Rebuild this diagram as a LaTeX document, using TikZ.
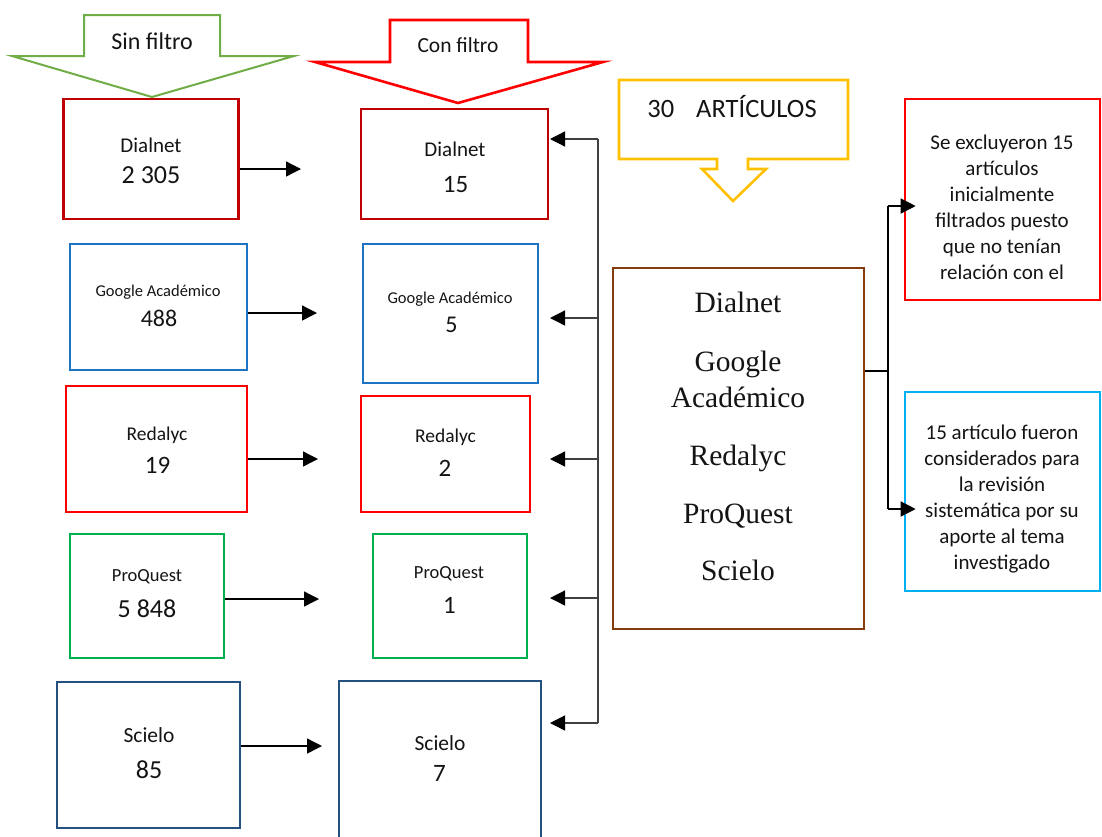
\documentclass[tikz,border=0pt]{standalone}
\usepackage{fontspec}
\setmainfont{Carlito}
\newfontfamily\tmsfont{Liberation Serif}
\usetikzlibrary{arrows.meta}
\definecolor{cGrn}{HTML}{70AD47}
\definecolor{cRed}{HTML}{FF0000}
\definecolor{cDial}{HTML}{C00000}
\definecolor{cGoog}{HTML}{1F74C2}
\definecolor{cPro}{HTML}{00B050}
\definecolor{cSci}{HTML}{24517F}
\definecolor{cYel}{HTML}{FFC000}
\definecolor{cBro}{HTML}{843C0C}
\definecolor{cSky}{HTML}{00B0F0}
\definecolor{cBus}{HTML}{404040}
\definecolor{cTxt}{HTML}{141414}
\newcommand{\fs}[1]{\fontsize{#1}{#1}\selectfont}
\begin{document}
\begin{tikzpicture}[x=1pt,y=-1pt,
  box/.style={draw, line width=2.6pt, inner sep=0pt},
  txt/.style={anchor=base, text=cTxt, inner sep=0pt},
  para/.style={text=cTxt, inner sep=0pt, align=center, font=\fontsize{21}{26}\selectfont},
  arr/.style={-{Triangle[length=15pt,width=15pt]}, line width=1.3pt, black},
  barr/.style={-{Triangle[length=15pt,width=15pt,black]}, line width=1.3pt, cBus},
  bus/.style={line width=1.8pt, cBus}]
\useasboundingbox (0,0) rectangle (1102,836);

% top arrows
\draw[cGrn, line width=2pt] (84,15) -- (220,15) -- (220,56) -- (294,56) -- (152,97) -- (12,56) -- (84,56) -- cycle;
\node[txt, font=\fs{24}] (sinF) at (152,49) {Sin filtro};
\draw[cRed, line width=2.6pt] (390,20) -- (528,20) -- (528,62) -- (603,62) -- (458,103) -- (315,62) -- (390,62) -- cycle;
\node[txt, font=\fs{21.5}] (conF) at (458,52) {Con filtro};

% left column
\node[box, draw=cDial, minimum width=175pt, minimum height=120pt] (dL) at (151,159) {};
\node[txt, font=\fs{21}] (dLa) at (151,152) {Dialnet};
\node[txt, font=\fs{26}] (dLn) at (151,183) {2 305};

\node[box, draw=cGoog, minimum width=177pt, minimum height=126pt] (gL) at (158.5,307) {};
\node[txt, font=\fs{16.5}] (gLa) at (158,296) {Google Académico};
\node[txt, font=\fs{24}] (gLn) at (159,326) {488};

\node[box, draw=cRed, minimum width=181pt, minimum height=126pt] (rL) at (156.5,449) {};
\node[txt, font=\fs{19.5}] (rLa) at (157,440) {Redalyc};
\node[txt, font=\fs{25}] (rLn) at (157.5,473) {19};

\node[box, draw=cPro, minimum width=154pt, minimum height=124pt] (pL) at (147,596) {};
\node[txt, font=\fs{18.5}] (pLa) at (147,581) {ProQuest};
\node[txt, font=\fs{26}] (pLn) at (147,617) {5 848};

\node[box, draw=cSci, minimum width=183pt, minimum height=146pt] (sL) at (148.5,755) {};
\node[txt, font=\fs{21.5}] (sLa) at (149,742) {Scielo};
\node[txt, font=\fs{26}] (sLn) at (149,778) {85};

% right column
\node[box, draw=cDial, minimum width=187pt, minimum height=110pt] (dR) at (454.5,164) {};
\node[txt, font=\fs{21}] (dRa) at (455,156) {Dialnet};
\node[txt, font=\fs{25}] (dRn) at (455.5,192) {15};

\node[box, draw=cGoog, minimum width=175pt, minimum height=139pt] (gR) at (450.5,313.5) {};
\node[txt, font=\fs{16.5}] (gRa) at (450,303) {Google Académico};
\node[txt, font=\fs{24}] (gRn) at (451.5,332) {5};

\node[box, draw=cRed, minimum width=169pt, minimum height=116pt] (rR) at (445.5,454) {};
\node[txt, font=\fs{19.5}] (rRa) at (445.5,442) {Redalyc};
\node[txt, font=\fs{25}] (rRn) at (445,476) {2};

\node[box, draw=cPro, minimum width=154pt, minimum height=124pt] (pR) at (450,596) {};
\node[txt, font=\fs{18.5}] (pRa) at (449,578) {ProQuest};
\node[txt, font=\fs{25}] (pRn) at (449.5,613) {1};

\node[box, draw=cSci, minimum width=202pt, minimum height=160pt] (sR) at (440,761) {};
\node[txt, font=\fs{21.5}] (sRa) at (440,750) {Scielo};
\node[txt, font=\fs{25}] (sRn) at (439.5,781) {7};

% left -> right arrows
\coordinate (tD) at (301,169);
\coordinate (tG) at (317,313);
\coordinate (tR) at (318,459);
\coordinate (tP) at (319,599);
\coordinate (tS) at (322,746);
\draw[arr] (dL.east |- tD) -- (tD);
\draw[arr] (gL.east |- tG) -- (tG);
\draw[arr] (rL.east |- tR) -- (tR);
\draw[arr] (pL.east |- tP) -- (tP);
\draw[arr] (sL.east |- tS) -- (tS);

% bus
\coordinate (bT) at (598,139);
\coordinate (bG) at (598,318);
\coordinate (bR) at (598,459);
\coordinate (bP) at (598,598);
\coordinate (bB) at (598,723);
\coordinate (tipx) at (550,0);
\draw[bus] (bT) -- (bB);
\draw[barr] (bT) -- (bT -| tipx);
\draw[barr] (bG) -- (bG -| tipx);
\draw[barr] (bR) -- (bR -| tipx);
\draw[barr] (bP) -- (bP -| tipx);
\draw[barr] (bB) -- (bB -| tipx);

% yellow callout
\draw[cYel, line width=2.6pt] (619,80) -- (848,80) -- (848,159) -- (748,159) -- (748,169) -- (766,169) -- (733,201) -- (702,169) -- (717,169) -- (717,159) -- (619,159) -- cycle;
\node[txt, font=\fs{26.5}] (art) at (732,117) {30\hspace{22pt}ARTÍCULOS};

% brown box
\node[box, draw=cBro, minimum width=251pt, minimum height=361pt] (bro) at (738.5,448.5) {};
\node[txt, font=\tmsfont\fs{29.5}] (b1) at (738,312) {Dialnet};
\node[txt, font=\tmsfont\fs{29.5}] (b2) at (738,371) {Google};
\node[txt, font=\tmsfont\fs{29.5}] (b3) at (738,407) {Académico};
\node[txt, font=\tmsfont\fs{29.5}] (b4) at (738,465) {Redalyc};
\node[txt, font=\tmsfont\fs{29.5}] (b5) at (738,523) {ProQuest};
\node[txt, font=\tmsfont\fs{29.5}] (b6) at (738,580) {Scielo};

% right boxes
\node[box, draw=cRed, minimum width=195pt, minimum height=201pt] (rr) at (1002.5,199.5) {};
\node[para] (rrT) at (1002,207) {Se excluyeron 15\\artículos\\inicialmente\\filtrados puesto\\que no tenían\\relación con el};
\node[box, draw=cSky, minimum width=195pt, minimum height=199pt] (rb) at (1002.5,491.5) {};
\node[para] (rbT) at (1002,499) {15 artículo fueron\\considerados para\\la revisión\\sistemática por su\\aporte al tema\\investigado};

% brown -> right connectors
\coordinate (jn) at (888,371);
\coordinate (jT) at (888,206);
\coordinate (jB) at (888,509);
\draw[line width=1.3pt, black] (bro.east |- jn) -- (jn);
\draw[line width=1.3pt, black] (jT) -- (jB);
\draw[arr, shorten >=-12pt] (jT) -- (jT -| rr.west);
\draw[arr, shorten >=-12pt] (jB) -- (jB -| rb.west);
\end{tikzpicture}
\end{document}
